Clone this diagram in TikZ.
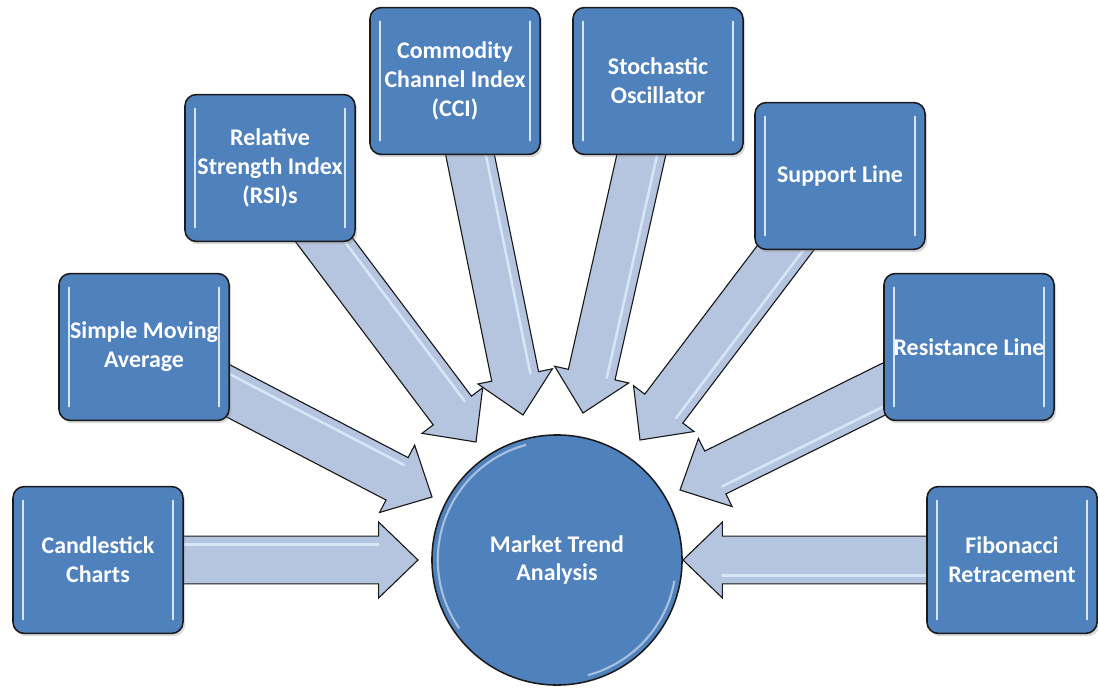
\documentclass[tikz,border=0pt]{standalone}
\usepackage{fontspec}
\setmainfont{Carlito}
\usepackage{tikz}
\usetikzlibrary{calc, shadows}
\definecolor{boxblue}{HTML}{4F81BD}
\definecolor{arrowblue}{HTML}{B6C5DF}
\definecolor{glintblue}{HTML}{D6E6F7}
\definecolor{edgegray}{HTML}{1A1A1A}

\pgfdeclarelayer{background}
\pgfsetlayers{background,main}

% block arrow from #1 to tip #2
\newcommand\shafthw{17pt}
\newcommand\headhw{27pt}
\newcommand\headlen{28pt}
\newcommand\blockarrow[2]{%
  \coordinate (hb) at ($(#2)!\headlen!(#1)$);
  \filldraw[fatarrow] ($(#1)!\shafthw!-90:(#2)$) -- ($(hb)!\shafthw!-90:(#2)$)
    -- ($(hb)!\headhw!-90:(#2)$) -- (#2) -- ($(hb)!\headhw!90:(#2)$)
    -- ($(hb)!\shafthw!90:(#2)$) -- ($(#1)!\shafthw!90:(#2)$) -- cycle;
  \draw[glint] ($(#1)!11pt!90:(#2)$) -- ($(hb)!11pt!90:(#2)$);
}

\begin{document}
\begin{tikzpicture}[
    x=0.025cm, y=-0.025cm,
    tool/.style={draw=edgegray, fill=boxblue, line width=1.1pt, rounded corners=8pt,
      minimum width=4.25cm, minimum height=3.67cm, align=center, text=white,
      font=\fontsize{17}{20.5}\selectfont\bfseries,
      drop shadow={opacity=0.3, shadow xshift=1.5pt, shadow yshift=-2pt},
      path picture={
        \draw[glint] ([xshift=7pt,yshift=-10pt]path picture bounding box.north west)
          -- ([xshift=7pt,yshift=10pt]path picture bounding box.south west);
        \draw[glint] ([xshift=-7pt,yshift=-10pt]path picture bounding box.north east)
          -- ([xshift=-7pt,yshift=10pt]path picture bounding box.south east);
      }},
    hub/.style={circle, draw=edgegray, fill=boxblue, line width=1.1pt,
      minimum size=6.25cm, align=center, text=white,
      font=\fontsize{17}{20.5}\selectfont\bfseries,
      path picture={
        \draw[white, opacity=0.5, line width=1.5pt] (path picture bounding box.center)
          ++(105:2.98cm) arc (105:215:2.98cm);
        \draw[white, opacity=0.5, line width=1.5pt] (path picture bounding box.center)
          ++(-10:2.98cm) arc (-10:-75:2.98cm);
      }},
    fatarrow/.style={fill=arrowblue, draw=edgegray, line width=0.8pt, line join=miter},
    glint/.style={glintblue, line width=1.8pt, line cap=round}
  ]
  \useasboundingbox (0,0) rectangle (1098,689);

  \node[hub] (trend) at (557,560) {Market Trend\\Analysis};

  \node[tool] (candle) at (98,560) {Candlestick\\Charts};
  \node[tool] (sma) at (144,347) {Simple Moving\\Average};
  \node[tool] (rsi) at (270,168) {Relative\\Strength Index\\(RSI)s};
  \node[tool] (cci) at (455,81) {Commodity\\Channel Index\\(CCI)};
  \node[tool] (stoch) at (658,81) {Stochastic\\Oscillator};
  \node[tool] (support) at (840,176) {Support Line};
  \node[tool] (resist) at (969,347) {Resistance Line};
  \node[tool] (fib) at (1012,560) {Fibonacci\\Retracement};

  % arrow tips around the hub
  \coordinate (t1) at (418,560);
  \coordinate (t2) at (432,497);
  \coordinate (t3) at (476,442);
  \coordinate (t4) at (523,415);
  \coordinate (t5) at (583,413);
  \coordinate (t6) at (640,440);
  \coordinate (t7) at (680,490);
  \coordinate (t8) at (683,560);

  \begin{pgfonlayer}{background}
    \blockarrow{candle.center}{t1}
    \blockarrow{sma.center}{t2}
    \blockarrow{rsi.center}{t3}
    \blockarrow{cci.center}{t4}
    \blockarrow{stoch.center}{t5}
    \blockarrow{support.center}{t6}
    \blockarrow{resist.center}{t7}
    \blockarrow{fib.center}{t8}
  \end{pgfonlayer}
\end{tikzpicture}
\end{document}
